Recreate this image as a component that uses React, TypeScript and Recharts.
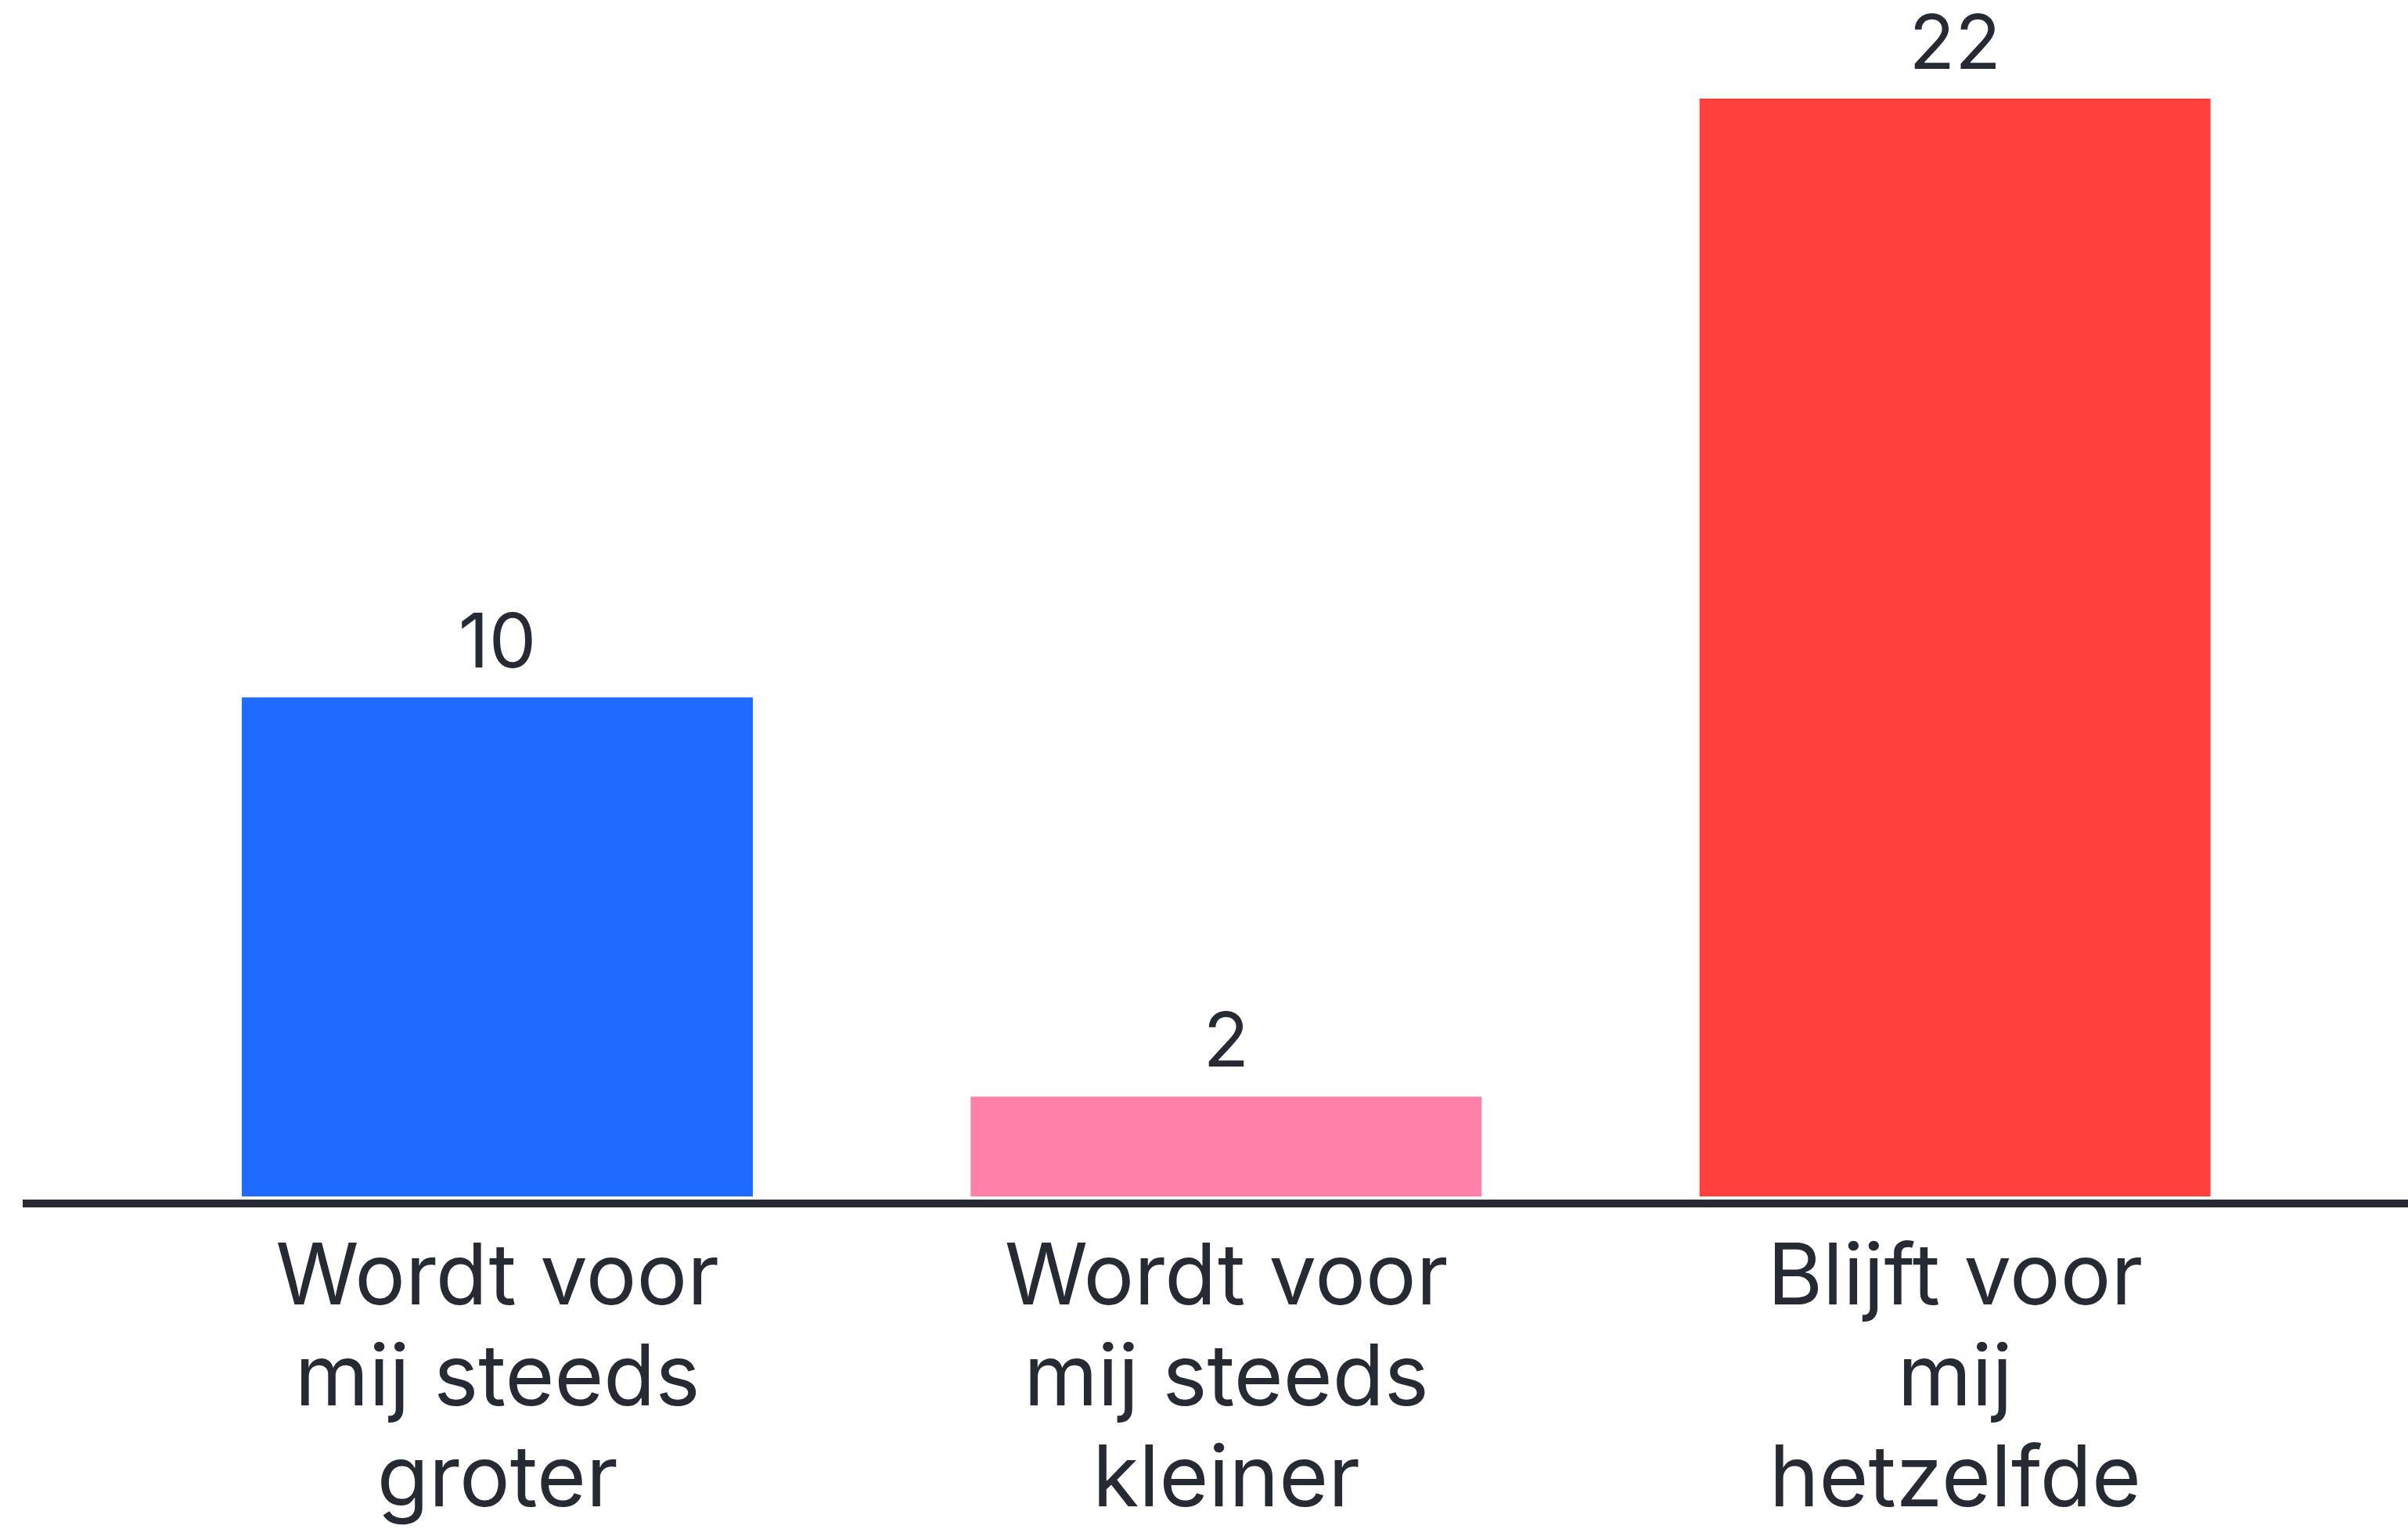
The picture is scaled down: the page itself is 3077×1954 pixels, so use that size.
import { Bar, BarChart, Cell, LabelList, XAxis, YAxis } from "recharts";

const categories = [
  ["Wordt voor", "mij steeds", "groter"],
  ["Wordt voor", "mij steeds", "kleiner"],
  ["Blijft voor", "mij", "hetzelfde"],
];
const counts = [10, 2, 22];
const colors = ["#1f6bff", "#ff80a8", "#ff403d"];

const data = categories.map((lines, i) => ({
  name: lines.join(" "),
  lines,
  value: counts[i],
}));

const TEXT = "#252a33";
const FONT = "Inter, 'Noto Sans', sans-serif";

function WrappedTick({ x, y, payload, index }: { x?: number; y?: number; payload?: { value: string }; index?: number }) {
  const lines = categories[index ?? 0] ?? [payload?.value ?? ""];
  return (
    <text x={x} y={y} textAnchor="middle" fill={TEXT} fontSize={108} fontFamily={FONT}>
      {lines.map((line, i) => (
        <tspan key={i} x={x} dy={i === 0 ? 138 : 129}>
          {line}
        </tspan>
      ))}
    </text>
  );
}

export default function App() {
  return (
    <div style={{ position: "fixed", left: 0, top: 0, background: "#fff" }}>
      <BarChart
        width={3077}
        height={1954}
        data={data}
        margin={{ top: 126, right: 0, left: 29, bottom: 25 }}
      >
        <YAxis hide domain={[0, 22]} />
        <XAxis
          dataKey="name"
          height={400}
          interval={0}
          padding={{ left: 141, right: 113 }}
          tickLine={false}
          tickSize={0}
          tickMargin={0}
          axisLine={{ stroke: TEXT, strokeWidth: 10, transform: "translate(0,9)" } as any}
          tick={<WrappedTick />}
        />
        <Bar dataKey="value" barSize={653} isAnimationActive={false}>
          {data.map((_, i) => (
            <Cell key={i} fill={colors[i]} />
          ))}
          <LabelList
            dataKey="value"
            position="top"
            offset={38}
            fill={TEXT}
            fontSize={96}
            fontFamily={FONT}
          />
        </Bar>
      </BarChart>
    </div>
  );
}
